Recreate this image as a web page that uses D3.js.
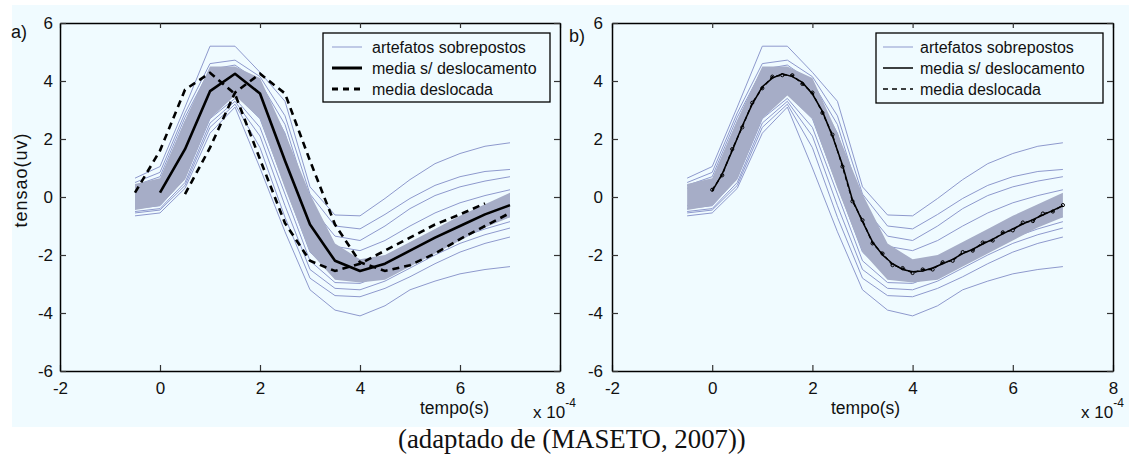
<!DOCTYPE html>
<html><head><meta charset="utf-8">
<script src="https://cdn.jsdelivr.net/npm/d3@7"></script>
<style>
body{margin:0;background:#fff;}
svg{display:block;}
text{font-family:"Liberation Sans",Arial,Helvetica,sans-serif;fill:#111;}
</style></head><body>
<svg id="fig" width="1129" height="455"></svg>
<script>
// time grid of the recorded artefacts (units of 1e-4 s)
const tArt = [-0.5, 0, 0.5, 1, 1.5, 2, 2.5, 3, 3.5, 4, 4.5, 5, 5.5, 6, 6.5, 7];

// individual superposed artefacts (uV)
const art1 = [0.65, 1.05, 3.1, 5.2, 5.2, 4.3, 3.3, 0.35, -0.62, -0.65, -0.05, 0.6, 1.15, 1.5, 1.75, 1.87];
const art2 = [0.5, 0.85, 2.9, 4.6, 4.72, 4.15, 2.8, 0.1, -1.0, -1.1, -0.6, -0.05, 0.4, 0.7, 0.88, 0.95];
const art3 = [0.4, 0.7, 2.75, 4.4, 4.55, 3.95, 2.5, -0.3, -1.35, -1.5, -1.0, -0.4, 0.05, 0.35, 0.55, 0.7];
const art4 = [0.3, 0.55, 2.6, 4.35, 4.45, 3.8, 2.2, -0.5, -1.7, -1.85, -1.5, -1.0, -0.55, -0.2, 0.05, 0.25];
const art5 = [-0.3, -0.2, 0.8, 2.9, 3.55, 2.7, 0.4, -1.9, -2.7, -2.75, -2.45, -2.0, -1.55, -1.2, -0.9, -0.68];
const art6 = [-0.4, -0.3, 0.65, 2.7, 3.4, 2.4, 0.1, -2.2, -2.95, -2.98, -2.65, -2.2, -1.75, -1.4, -1.1, -0.85];
const art7 = [-0.5, -0.4, 0.5, 2.55, 3.3, 2.1, -0.3, -2.5, -3.15, -3.2, -2.9, -2.45, -2.0, -1.6, -1.3, -1.07];
const art8 = [-0.55, -0.45, 0.4, 2.4, 3.2, 1.7, -0.7, -2.8, -3.4, -3.44, -3.15, -2.75, -2.3, -1.9, -1.6, -1.38];
const art9 = [-0.65, -0.55, 0.3, 2.2, 3.1, 1.0, -1.2, -3.2, -3.9, -4.1, -3.75, -3.2, -2.9, -2.65, -2.5, -2.4];
const artifacts = [art1, art2, art3, art4, art5, art6, art7, art8, art9];

// dense bundle of artefacts around the mean: upper and lower envelope
const bundleUpper = [0.45, 0.65, 2.65, 4.5, 4.5, 4.1, 2.2, 0.1, -1.6, -2.15, -2.0, -1.55, -1.1, -0.65, -0.25, 0.15];
const bundleLower = [-0.45, -0.3, 0.6, 2.7, 3.5, 2.7, 0.3, -1.9, -2.85, -2.95, -2.85, -2.4, -1.95, -1.5, -1.05, -0.7];

// mean without shift
const tMean = [0, 0.5, 1, 1.5, 2, 2.5, 3, 3.5, 4, 4.5, 5, 5.5, 6, 6.5, 7];
const meanA = [0.15, 1.65, 3.65, 4.25, 3.57, 1.25, -0.95, -2.2, -2.55, -2.3, -1.85, -1.4, -1.0, -0.6, -0.28];

// shifted means (one sample earlier / one sample later)
const tShiftEarly = [-0.5, 0, 0.5, 1, 1.5, 2, 2.5, 3, 3.5, 4, 4.5, 5, 5.5, 6, 6.5];
const shiftEarly = [0.15, 1.6, 3.7, 4.28, 3.55, 1.3, -0.9, -2.2, -2.55, -2.3, -1.85, -1.4, -0.95, -0.6, -0.22];
const tShiftLate = [0.5, 1, 1.5, 2, 2.5, 3, 3.5, 4, 4.5, 5, 5.5, 6, 6.5, 7];
const shiftLate = [0.1, 1.7, 3.6, 4.25, 3.57, 1.25, -0.95, -2.25, -2.55, -2.35, -1.95, -1.45, -1.0, -0.55];

// realigned averages on the fine grid
const tFine = [0, 0.2, 0.4, 0.6, 0.8, 1, 1.2, 1.4, 1.6, 1.8, 2, 2.2, 2.4, 2.6, 2.8, 3, 3.2, 3.4, 3.6, 3.8,
               4, 4.2, 4.4, 4.6, 4.8, 5, 5.2, 5.4, 5.6, 5.8, 6, 6.2, 6.4, 6.6, 6.8, 7];
const meanB = [0.2, 0.8, 1.6, 2.45, 3.2, 3.8, 4.1, 4.25, 4.15, 3.95, 3.55, 2.95, 2.1, 1.1, -0.1, -0.85, -1.55, -2.0, -2.3, -2.5,
               -2.58, -2.55, -2.45, -2.3, -2.15, -1.95, -1.8, -1.62, -1.45, -1.27, -1.1, -0.93, -0.78, -0.62, -0.46, -0.3];
const shiftB = [0.25, 0.75, 1.65, 2.4, 3.25, 3.75, 4.15, 4.2, 4.2, 3.9, 3.6, 2.9, 2.15, 1.05, -0.15, -0.8, -1.6, -1.95, -2.35, -2.45,
                -2.62, -2.5, -2.5, -2.25, -2.2, -1.9, -1.85, -1.57, -1.5, -1.22, -1.15, -0.88, -0.83, -0.57, -0.5, -0.28];

const xTicks = [-2, 0, 2, 4, 6, 8];
const yTicks = [-6, -4, -2, 0, 2, 4, 6];
const legendLabels = ["artefatos sobrepostos", "media s/ deslocamento", "media deslocada"];
const caption = "(adaptado de (MASETO, 2007))";

const BG = "#f0fbff", ART = "#8e99cd", BUNDLE = "#a6adc7";

const svg = d3.select("#fig");
svg.append("rect").attr("x", 12).attr("y", 5).attr("width", 1117).attr("height", 422).attr("fill", BG);

const panels = [
  {tag: "a)", left: 60, right: 560, top: 23, bottom: 371, tagX: 11, tagY: 38, thick: true,
   legend: {x: 323, y: 33, w: 227, h: 69, lx: 332, tx: 372}, xlabX: 420, expX: 533, tickPadY: 7},
  {tag: "b)", left: 612, right: 1113, top: 23, bottom: 371, tagX: 569, tagY: 42, thick: false,
   legend: {x: 876, y: 33, w: 227, h: 70, lx: 883, tx: 920}, xlabX: 831, expX: 1081, tickPadY: 9}
];

panels.forEach(p => {
  const x = d3.scaleLinear().domain([-2, 8]).range([p.left, p.right]);
  const y = d3.scaleLinear().domain([-6, 6]).range([p.bottom, p.top]);
  const g = svg.append("g");

  const line = (ts) => d3.line().x((d, i) => x(ts[i])).y(d => y(d));

  // superposed artefacts
  g.append("g").selectAll("path").data(artifacts).join("path")
    .attr("d", d => line(tArt)(d))
    .attr("fill", "none").attr("stroke", ART).attr("stroke-width", 1);

  // dense bundle around the mean
  const area = d3.area().x((d, i) => x(tArt[i])).y0((d, i) => y(bundleLower[i])).y1(d => y(d));
  g.append("path").attr("d", area(bundleUpper)).attr("fill", BUNDLE);

  if (p.thick) {
    g.append("path").attr("d", line(tMean)(meanA))
      .attr("fill", "none").attr("stroke", "#000").attr("stroke-width", 2.6).attr("stroke-linejoin", "round");
    [[tShiftEarly, shiftEarly], [tShiftLate, shiftLate]].forEach(([ts, vs]) => {
      g.append("path").attr("d", line(ts)(vs))
        .attr("fill", "none").attr("stroke", "#000").attr("stroke-width", 2.6)
        .attr("stroke-dasharray", "7,5");
    });
  } else {
    g.append("path").attr("d", line(tFine)(meanB))
      .attr("fill", "none").attr("stroke", "#000").attr("stroke-width", 1.5);
    g.append("path").attr("d", line(tFine)(shiftB))
      .attr("fill", "none").attr("stroke", "#000").attr("stroke-width", 1.3).attr("stroke-dasharray", "4,3");
    g.append("g").selectAll("circle").data(shiftB).join("circle")
      .attr("cx", (d, i) => x(tFine[i])).attr("cy", d => y(d)).attr("r", 1.6)
      .attr("fill", "none").attr("stroke", "#000").attr("stroke-width", 1);
  }

  // axes box with inward ticks
  const fmt = d => String(d);
  const styleAxis = sel => {
    sel.select(".domain").attr("stroke", "#000").attr("stroke-width", 1.5);
    sel.selectAll(".tick line").attr("stroke", "#333").attr("stroke-width", 1.2);
    sel.selectAll("text").attr("font-size", 17).attr("fill", "#111");
  };
  g.append("g").attr("transform", `translate(0,${p.bottom})`)
    .call(d3.axisBottom(x).tickValues(xTicks).tickFormat(fmt).tickSize(-6).tickSizeOuter(0).tickPadding(11))
    .call(styleAxis);
  g.append("g").attr("transform", `translate(0,${p.top})`)
    .call(d3.axisTop(x).tickValues(xTicks).tickFormat("").tickSize(-5).tickSizeOuter(0))
    .call(styleAxis);
  g.append("g").attr("transform", `translate(${p.left},0)`)
    .call(d3.axisLeft(y).tickValues(yTicks).tickFormat(fmt).tickSize(-6).tickSizeOuter(0).tickPadding(p.tickPadY))
    .call(styleAxis);
  g.append("g").attr("transform", `translate(${p.right},0)`)
    .call(d3.axisRight(y).tickValues(yTicks).tickFormat("").tickSize(-6).tickSizeOuter(0))
    .call(styleAxis);

  // panel tag
  g.append("text").attr("x", p.tagX).attr("y", p.tagY).attr("font-size", 18).text(p.tag);

  // x label and exponent
  g.append("text").attr("x", p.xlabX).attr("y", 414).attr("font-size", 17.5).text("tempo(s)");
  const ex = g.append("text").attr("x", p.expX).attr("y", 418).attr("font-size", 17);
  ex.append("tspan").text("x 10");
  ex.append("tspan").attr("dy", -11).attr("font-size", 12).text("-4");

  // legend
  const L = p.legend;
  g.append("rect").attr("x", L.x).attr("y", L.y).attr("width", L.w).attr("height", L.h)
    .attr("fill", BG).attr("stroke", "#000").attr("stroke-width", 1.3);
  const rows = [14, 35, 56];
  const sw = p.thick ? [1, 3, 3] : [1, 1.5, 1.5];
  const dash = p.thick ? [null, null, "6,5"] : [null, null, "5,4"];
  const col = [ART, "#000", "#000"];
  legendLabels.forEach((lab, i) => {
    g.append("line").attr("x1", L.lx).attr("x2", L.lx + 30).attr("y1", L.y + rows[i]).attr("y2", L.y + rows[i])
      .attr("stroke", col[i]).attr("stroke-width", sw[i]).attr("stroke-dasharray", dash[i]);
    g.append("text").attr("x", L.tx).attr("y", L.y + rows[i]).attr("dy", "0.35em")
      .attr("font-size", 16).text(lab);
  });
});

// y label on the first panel
svg.append("text").attr("transform", "translate(27,180) rotate(-90)")
  .attr("text-anchor", "middle").attr("font-size", 18).attr("letter-spacing", 1).text("tensao(uv)");

svg.append("text").attr("x", 398).attr("y", 448)
  .attr("font-size", 26.8)
  .style("font-family", "'Liberation Serif','Times New Roman',serif")
  .text(caption);
</script>
</body></html>
